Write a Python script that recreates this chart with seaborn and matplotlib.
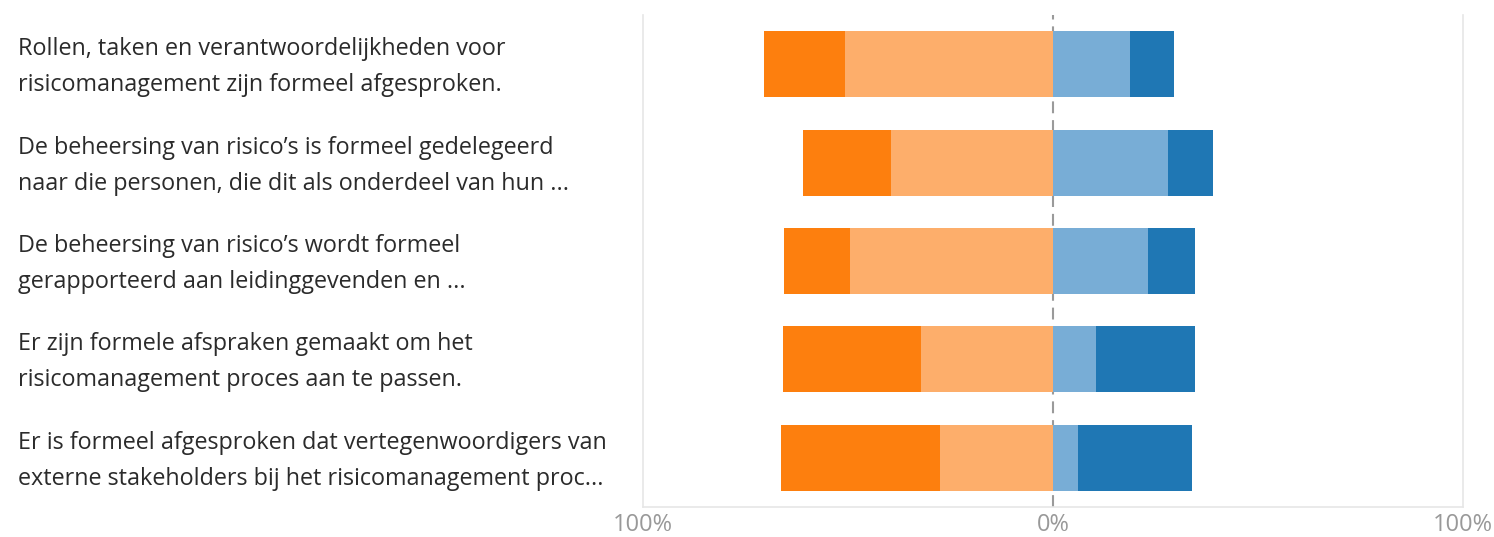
import matplotlib
matplotlib.use("Agg")
import matplotlib.pyplot as plt
import matplotlib.transforms as mtransforms
import seaborn as sns
import pandas as pd

# Survey statements (wrapped to two lines, truncated as in the dashboard)
statements = [
    "Rollen, taken en verantwoordelijkheden voor\nrisicomanagement zijn formeel afgesproken.",
    "De beheersing van risico’s is formeel gedelegeerd\nnaar die personen, die dit als onderdeel van hun ...",
    "De beheersing van risico’s wordt formeel\ngerapporteerd aan leidinggevenden en ...",
    "Er zijn formele afspraken gemaakt om het\nrisicomanagement proces aan te passen.",
    "Er is formeel afgesproken dat vertegenwoordigers van\nexterne stakeholders bij het risicomanagement proc...",
]

# Share of respondents per answer (%)
strongly_disagree = [19.6, 21.4, 16.3, 33.7, 38.7]
disagree = [50.8, 39.6, 49.4, 32.1, 27.6]
agree = [18.9, 28.1, 23.1, 10.6, 6.0]
strongly_agree = [10.7, 11.0, 11.5, 24.0, 28.0]

tick_values = [-100, 0, 100]
tick_labels = ["100%", "0%", "100%"]

colors = {
    "strongly_disagree": "#FD7F0E",
    "disagree": "#FDAE6B",
    "agree": "#78ADD6",
    "strongly_agree": "#1F77B4",
}

df = pd.DataFrame({
    "statement": statements,
    "strongly_disagree": strongly_disagree,
    "disagree": disagree,
    "agree": agree,
    "strongly_agree": strongly_agree,
})
# Cumulative extents for the diverging stack (outer segments drawn first)
df["neg_outer"] = -(df["strongly_disagree"] + df["disagree"])
df["neg_inner"] = -df["disagree"]
df["pos_outer"] = df["agree"] + df["strongly_agree"]
df["pos_inner"] = df["agree"]

plt.rcParams["font.family"] = ["Open Sans", "DejaVu Sans"]

W, H = 1494, 537
fig = plt.figure(figsize=(W / 100, H / 100), dpi=100)
fig.patch.set_facecolor("white")
ax = fig.add_axes([643 / W, 1 - 507 / H, 820 / W, 492 / H])

bar_kw = dict(y="statement", orient="h", order=statements, width=0.67,
              linewidth=0, saturation=1, ax=ax, zorder=3)
sns.barplot(data=df, x="neg_outer", color=colors["strongly_disagree"], **bar_kw)
sns.barplot(data=df, x="neg_inner", color=colors["disagree"], **bar_kw)
sns.barplot(data=df, x="pos_outer", color=colors["strongly_agree"], **bar_kw)
sns.barplot(data=df, x="pos_inner", color=colors["agree"], **bar_kw)

ax.axvline(0, color="#9a9a9a", lw=1.5, ls=(0, (5.7, 3.3)), zorder=1)

ax.set_xlim(-100, 100)
ax.set_ylim(4.5, -0.5)
ax.set_xticks(tick_values)
ax.set_xticklabels(tick_labels)
ax.set_xlabel("")
ax.set_ylabel("")

for side in ["left", "right", "bottom"]:
    ax.spines[side].set_color("#e6e6e6")
    ax.spines[side].set_linewidth(1.2)
ax.spines["top"].set_visible(False)

ax.tick_params(axis="x", length=0, pad=4, labelsize=17, labelcolor="#999999")
ax.tick_params(axis="y", length=0, pad=450, labelsize=16.8, labelcolor="#2b2b2b")
nudge = mtransforms.ScaledTranslation(0, -3 / 100, fig.dpi_scale_trans)
for lbl in ax.get_yticklabels():
    lbl.set_horizontalalignment("left")
    lbl.set_verticalalignment("center")
    lbl.set_linespacing(1.66)
    lbl.set_transform(lbl.get_transform() + nudge)

fig.savefig("out.png", dpi=100, facecolor="white")
